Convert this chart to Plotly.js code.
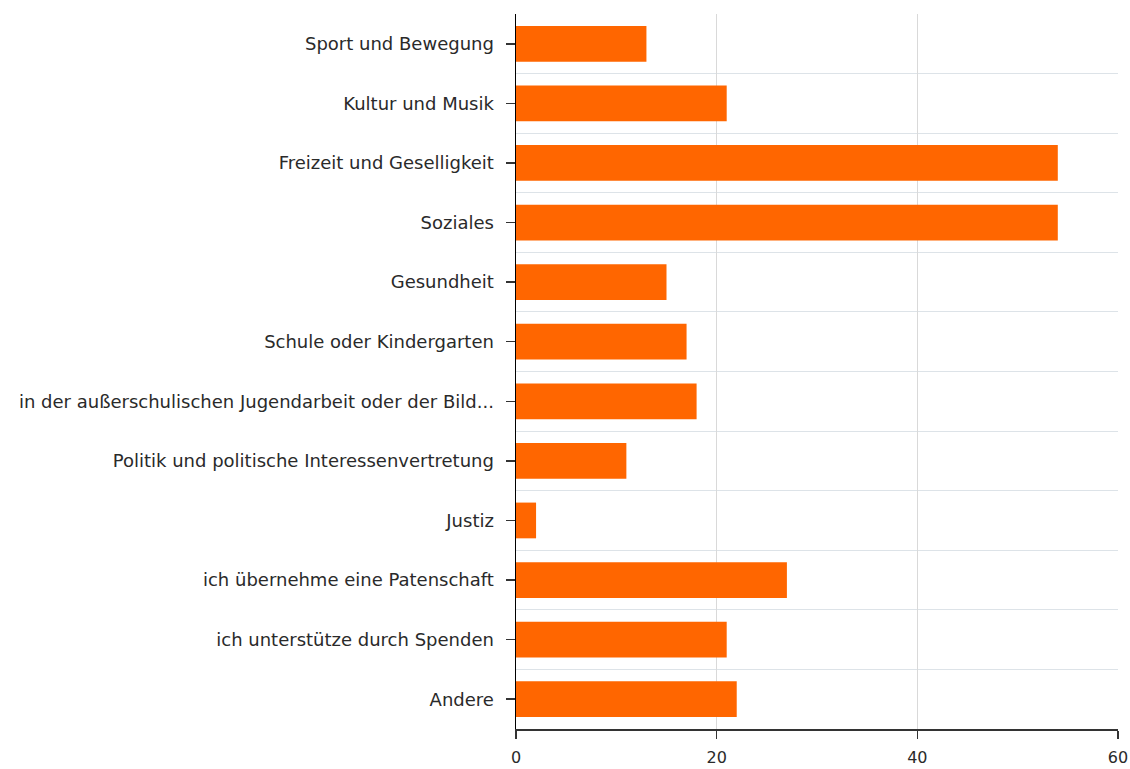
<!DOCTYPE html>
<html>
<head>
<meta charset="utf-8">
<script src="https://cdn.plot.ly/plotly-3.0.1.min.js"></script>
<style>html,body{margin:0;padding:0;background:#fff;}#chart{width:1130px;height:769px;}</style>
</head>
<body>
<div id="chart"></div>
<script>
const categories = [
  "Sport und Bewegung",
  "Kultur und Musik",
  "Freizeit und Geselligkeit",
  "Soziales",
  "Gesundheit",
  "Schule oder Kindergarten",
  "in der außerschulischen Jugendarbeit oder der Bild...",
  "Politik und politische Interessenvertretung",
  "Justiz",
  "ich übernehme eine Patenschaft",
  "ich unterstütze durch Spenden",
  "Andere"
];
const values = [13, 21, 54, 54, 15, 17, 18, 11, 2, 27, 21, 22];
const xTicks = [0, 20, 40, 60];

const positions = categories.map((c, i) => i);

const trace = {
  type: 'bar',
  orientation: 'h',
  x: values,
  y: positions,
  width: 0.6,
  marker: {color: '#ff6600'},
  hoverinfo: 'x'
};

const layout = {
  width: 1130,
  height: 769,
  margin: {l: 516, r: 12, t: 14, b: 40},
  paper_bgcolor: '#ffffff',
  plot_bgcolor: '#ffffff',
  showlegend: false,
  font: {family: '"DejaVu Sans", sans-serif', size: 18, color: '#2a2a2a'},
  xaxis: {
    range: [0, 60],
    tickmode: 'array',
    tickvals: xTicks,
    ticktext: xTicks.map(String),
    showgrid: true,
    gridcolor: '#d9d9d9',
    gridwidth: 1,
    zeroline: false,
    showline: true,
    linecolor: '#333',
    linewidth: 1.5,
    ticks: 'outside',
    ticklen: 8,
    tickwidth: 1.5,
    tickcolor: '#333',
    ticklabelstandoff: 5,
    tickfont: {family: '"DejaVu Sans", sans-serif', size: 16, color: '#2a2a2a'}
  },
  yaxis: {
    range: [categories.length - 0.5, -0.5],
    tickmode: 'array',
    tickvals: positions,
    ticktext: categories,
    showgrid: false,
    zeroline: false,
    showline: true,
    linecolor: '#000',
    linewidth: 1.5,
    ticks: 'outside',
    ticklen: 9,
    tickwidth: 1.5,
    tickcolor: '#333',
    ticklabelstandoff: 8,
    minor: {tickmode: 'linear', tick0: 0.5, dtick: 1, showgrid: true, gridcolor: '#dde3e8', gridwidth: 1, ticks: ''},
    tickfont: {family: '"DejaVu Sans", sans-serif', size: 18, color: '#2a2a2a'}
  }
};

Plotly.newPlot('chart', [trace], layout, {displayModeBar: false, staticPlot: true});
</script>
</body>
</html>
